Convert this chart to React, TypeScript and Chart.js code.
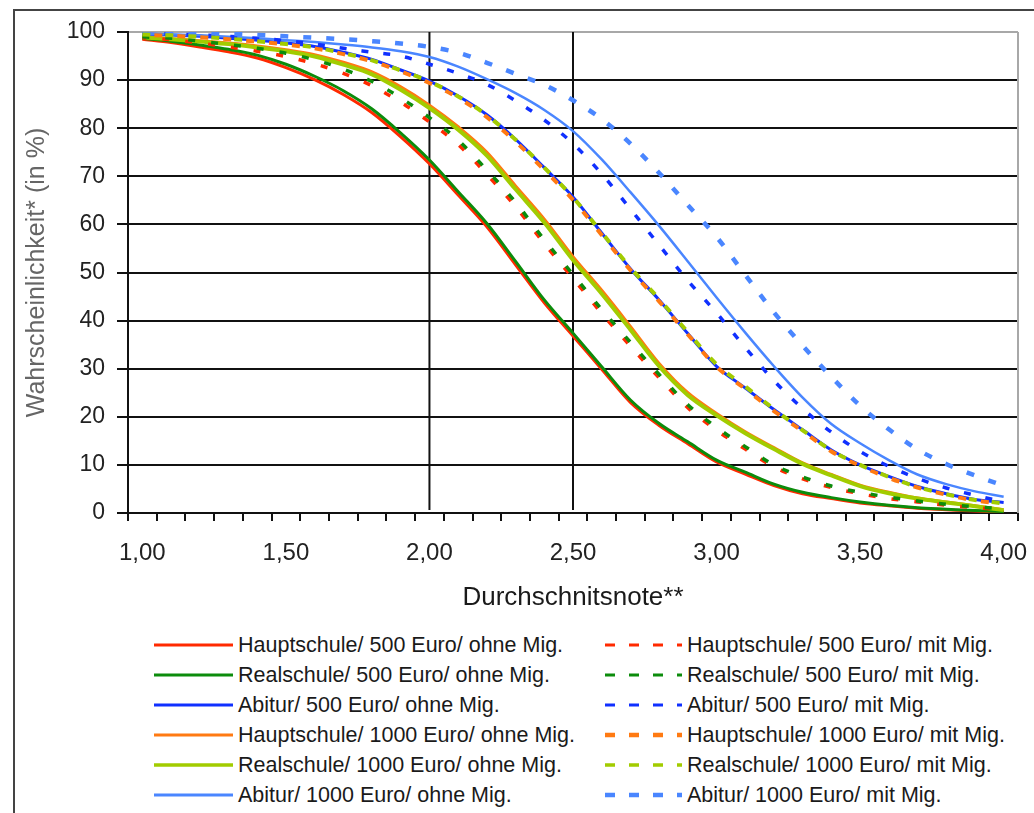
import React, { useEffect, useRef } from 'react';
import { Chart, registerables } from 'chart.js';

Chart.register(...registerables);

const categories = [
  '1,00', '1,10', '1,20', '1,30', '1,40', '1,50', '1,60', '1,70', '1,80', '1,90',
  '2,00', '2,10', '2,20', '2,30', '2,40', '2,50', '2,60', '2,70', '2,80', '2,90',
  '3,00', '3,10', '3,20', '3,30', '3,40', '3,50', '3,60', '3,70', '3,80', '3,90',
  '4,00',
];
const labeledTicks = ['1,00', '1,50', '2,00', '2,50', '3,00', '3,50', '4,00'];
const referenceNotes = ['2,00', '2,50'];

const hauptschule500Ohne = [98.5, 97.8, 96.9, 95.9, 94.6, 92.6, 90.1, 87.0, 83.2, 78.2, 72.6, 66.1, 59.5, 51.6, 43.7, 36.8, 29.9, 23.0, 18.2, 14.4, 10.6, 8.1, 5.7, 4.0, 3.0, 2.1, 1.5, 1.0, 0.7, 0.4, 0.2];
const realschule500Ohne = [98.7, 98.1, 97.3, 96.4, 95.2, 93.3, 90.8, 87.8, 84.0, 79.0, 73.4, 66.8, 60.2, 52.3, 44.3, 37.4, 30.4, 23.5, 18.6, 14.8, 11.0, 8.5, 6.0, 4.3, 3.2, 2.3, 1.6, 1.1, 0.8, 0.5, 0.3];
const abitur500Ohne = [99.6, 99.4, 99.1, 98.7, 98.3, 97.7, 97.0, 95.8, 94.3, 92.1, 89.8, 86.7, 82.8, 77.7, 71.8, 65.7, 58.2, 50.8, 44.3, 37.3, 30.5, 26.0, 21.5, 17.3, 13.1, 10.0, 7.6, 5.5, 4.0, 2.8, 2.2];
const hauptschule1000Ohne = [99.0, 98.6, 98.2, 97.7, 97.1, 96.3, 95.3, 93.7, 91.7, 88.6, 84.8, 80.3, 75.0, 68.0, 61.1, 53.3, 46.3, 38.8, 31.1, 25.0, 20.7, 16.9, 13.6, 10.4, 8.0, 5.8, 4.3, 3.1, 2.3, 1.5, 0.7];
const realschule1000Ohne = [98.9, 98.5, 98.0, 97.5, 96.8, 96.0, 94.9, 93.2, 91.2, 88.0, 84.2, 79.7, 74.3, 67.3, 60.4, 52.6, 45.6, 38.1, 30.5, 24.5, 20.3, 16.6, 13.3, 10.2, 7.8, 5.6, 4.1, 3.0, 2.2, 1.4, 0.6];
const abitur1000Ohne = [99.7, 99.5, 99.3, 99.0, 98.7, 98.3, 97.9, 97.4, 96.8, 96.0, 94.8, 92.8, 90.2, 87.3, 83.8, 79.4, 73.5, 66.7, 59.7, 52.3, 44.8, 37.5, 30.5, 24.0, 18.5, 14.5, 11.0, 8.0, 6.0, 4.5, 3.4];

const hauptschule500Mit = [98.8, 98.4, 97.7, 96.9, 96.0, 94.9, 93.4, 91.4, 88.8, 85.4, 81.3, 76.6, 70.4, 63.7, 56.0, 48.8, 41.5, 34.7, 28.1, 21.9, 17.2, 13.3, 9.6, 7.1, 5.3, 4.0, 3.0, 2.3, 1.6, 1.1, 0.7];
const realschule500Mit = [99.0, 98.7, 98.1, 97.4, 96.6, 95.6, 94.2, 92.3, 89.7, 86.3, 82.2, 77.5, 71.3, 64.6, 56.8, 49.6, 42.3, 35.5, 28.8, 22.5, 17.8, 13.8, 10.0, 7.5, 5.6, 4.3, 3.3, 2.5, 1.8, 1.3, 0.9];
const abitur500Mit = [99.8, 99.6, 99.4, 99.1, 98.7, 98.2, 97.5, 96.6, 95.8, 95.0, 93.3, 91.4, 89.1, 85.7, 81.7, 76.8, 70.5, 63.2, 55.7, 48.3, 41.6, 34.4, 27.5, 21.7, 16.8, 12.8, 9.7, 7.2, 5.2, 3.7, 2.3];
const hauptschule1000Mit = [99.4, 99.2, 98.9, 98.5, 98.0, 97.4, 96.6, 95.4, 93.9, 91.8, 89.4, 86.3, 82.3, 77.2, 71.3, 65.1, 57.8, 50.5, 44.0, 37.1, 30.4, 25.8, 21.2, 17.0, 12.8, 9.8, 7.3, 5.3, 3.8, 2.6, 1.9];
const realschule1000Mit = [99.5, 99.3, 99.0, 98.6, 98.1, 97.5, 96.8, 95.6, 94.1, 92.0, 89.7, 86.6, 82.7, 77.6, 71.8, 65.6, 58.3, 51.0, 44.5, 37.6, 30.9, 26.3, 21.6, 17.2, 13.0, 10.0, 7.5, 5.4, 3.9, 2.7, 2.0];
const abitur1000Mit = [100, 99.9, 99.8, 99.6, 99.4, 99.1, 98.8, 98.5, 98.1, 97.6, 96.9, 95.7, 93.6, 91.3, 89.0, 85.8, 81.9, 76.8, 70.7, 64.0, 57.4, 49.5, 41.7, 34.8, 28.3, 22.3, 17.4, 13.2, 10.2, 7.8, 5.7];

const FONT = "'Liberation Sans', Arial, sans-serif";

type Series = {
  label: string;
  data: number[];
  color: string;
  width: number;
  dash: number[];
  dashOffset: number;
  order: number;
  legendWidth: number;
};

const solidSeries: Series[] = [
  { label: 'Hauptschule/ 500 Euro/ ohne Mig.', data: hauptschule500Ohne, color: '#ff2a00', width: 3, dash: [], dashOffset: 0, order: 12, legendWidth: 3 },
  { label: 'Realschule/ 500 Euro/ ohne Mig.', data: realschule500Ohne, color: '#0c8c0c', width: 3, dash: [], dashOffset: 0, order: 11, legendWidth: 3 },
  { label: 'Abitur/ 500 Euro/ ohne Mig.', data: abitur500Ohne, color: '#1030ff', width: 3, dash: [], dashOffset: 0, order: 8, legendWidth: 3 },
  { label: 'Hauptschule/ 1000 Euro/ ohne Mig.', data: hauptschule1000Ohne, color: '#ff7a12', width: 3, dash: [], dashOffset: 0, order: 10, legendWidth: 3 },
  { label: 'Realschule/ 1000 Euro/ ohne Mig.', data: realschule1000Ohne, color: '#a2cc00', width: 4, dash: [], dashOffset: 0, order: 9, legendWidth: 3.5 },
  { label: 'Abitur/ 1000 Euro/ ohne Mig.', data: abitur1000Ohne, color: '#4a86ff', width: 2.5, dash: [], dashOffset: 0, order: 7, legendWidth: 3 },
];

const dashedSeries: Series[] = [
  { label: 'Hauptschule/ 500 Euro/ mit Mig.', data: hauptschule500Mit, color: '#ff2a00', width: 3.5, dash: [7, 16], dashOffset: 3, order: 4, legendWidth: 3 },
  { label: 'Realschule/ 500 Euro/ mit Mig.', data: realschule500Mit, color: '#0c8c0c', width: 3.5, dash: [7, 16], dashOffset: 0, order: 3, legendWidth: 3 },
  { label: 'Abitur/ 500 Euro/ mit Mig.', data: abitur500Mit, color: '#1030ff', width: 3.5, dash: [7, 15], dashOffset: 0, order: 6, legendWidth: 3 },
  { label: 'Hauptschule/ 1000 Euro/ mit Mig.', data: hauptschule1000Mit, color: '#ff7a12', width: 4, dash: [8, 15], dashOffset: 11, order: 2, legendWidth: 4.5 },
  { label: 'Realschule/ 1000 Euro/ mit Mig.', data: realschule1000Mit, color: '#a2cc00', width: 4, dash: [8, 15], dashOffset: 0, order: 1, legendWidth: 3.5 },
  { label: 'Abitur/ 1000 Euro/ mit Mig.', data: abitur1000Mit, color: '#4a86ff', width: 4.5, dash: [8, 15], dashOffset: 0, order: 5, legendWidth: 4.5 },
];

const framePlugin = {
  id: 'frameAndNotes',
  beforeDatasetsDraw(chart: any) {
    const { ctx, chartArea, scales } = chart;
    ctx.save();
    ctx.lineWidth = 2;
    ctx.strokeStyle = '#a8a8a8';
    ctx.beginPath();
    ctx.moveTo(chartArea.right, chartArea.top);
    ctx.lineTo(chartArea.right, chartArea.bottom);
    ctx.stroke();
    ctx.strokeStyle = '#111';
    referenceNotes.forEach((n) => {
      const x = scales.x.getPixelForValue(categories.indexOf(n));
      ctx.beginPath();
      ctx.moveTo(x, chartArea.top);
      ctx.lineTo(x, chartArea.bottom - 3);
      ctx.stroke();
    });
    ctx.restore();
  },
};

function LegendItem({ s, left, top, dashed }: { s: Series; left: number; top: number; dashed: boolean }) {
  return (
    <div style={{ position: 'absolute', left, top, height: 30, display: 'flex', alignItems: 'center' }}>
      <svg width={dashed ? 77 : 79} height={8} style={{ display: 'block' }}>
        <line
          x1={0}
          y1={4}
          x2={dashed ? 77 : 79}
          y2={4}
          stroke={s.color}
          strokeWidth={s.legendWidth}
          strokeDasharray={dashed ? '10 14' : undefined}
        />
      </svg>
      <span style={{ marginLeft: 5, fontFamily: FONT, fontSize: 21.5, color: '#1a1a1a', whiteSpace: 'nowrap' }}>{s.label}</span>
    </div>
  );
}

export default function App() {
  const canvasRef = useRef<HTMLCanvasElement | null>(null);

  useEffect(() => {
    if (!canvasRef.current) return;
    const all = [...solidSeries, ...dashedSeries];
    const chart = new Chart(canvasRef.current, {
      type: 'line',
      data: {
        labels: categories,
        datasets: all.map((s) => ({
          label: s.label,
          data: s.data,
          borderColor: s.color,
          backgroundColor: s.color,
          borderWidth: s.width,
          borderDash: s.dash,
          borderDashOffset: s.dashOffset,
          borderCapStyle: 'butt',
          pointRadius: 0,
          pointHoverRadius: 0,
          fill: false,
          cubicInterpolationMode: 'monotone',
          order: s.order,
        })),
      } as any,
      options: {
        responsive: false,
        animation: false,
        devicePixelRatio: 1,
        events: [],
        layout: { padding: { left: 20, top: 32, right: 16, bottom: 7 } },
        plugins: { legend: { display: false }, tooltip: { enabled: false } },
        scales: {
          x: {
            type: 'category',
            offset: true,
            grid: { offset: true, drawOnChartArea: false, drawTicks: true, tickLength: 8, color: '#111', lineWidth: 2 },
            border: { display: true, color: '#111', width: 2 },
            ticks: {
              autoSkip: false,
              maxRotation: 0,
              minRotation: 0,
              padding: 18,
              color: '#222',
              font: { family: FONT, size: 24 },
              callback: (_v: any, index: number) => (labeledTicks.includes(categories[index]) ? categories[index] : ''),
            },
            title: {
              display: true,
              text: 'Durchschnitsnote**',
              color: '#1a1a1a',
              font: { family: FONT, size: 26 },
              padding: { top: 0, bottom: 0 },
            },
            afterFit: (scale: any) => {
              scale.height = 100;
              scale.paddingLeft = 0;
              scale.paddingRight = 0;
            },
          },
          y: {
            min: 0,
            max: 100,
            ticks: { stepSize: 10, padding: 12, color: '#222', font: { family: FONT, size: 23 } },
            grid: {
              color: (c: any) => (c.tick && c.tick.value === 100 ? '#a8a8a8' : '#111'),
              tickColor: '#111',
              lineWidth: 2,
              tickLength: 11,
              drawTicks: true,
            },
            border: { display: true, color: '#111', width: 2 },
            title: {
              display: true,
              text: 'Wahrscheinlichkeit* (in %)',
              color: '#666',
              font: { family: FONT, size: 25 },
              padding: { top: 2, bottom: 0 },
            },
            afterFit: (scale: any) => {
              scale.width = 108;
            },
          },
        },
      } as any,
      plugins: [framePlugin],
    });
    return () => chart.destroy();
  }, []);

  return (
    <div style={{ position: 'absolute', left: 0, top: 0, width: 1034, height: 813, overflow: 'hidden', background: '#fff' }}>
      <div style={{ position: 'absolute', left: 13, top: 9, width: 1100, height: 900, borderLeft: '2px solid #444', borderTop: '2px solid #444' }} />
      <canvas ref={canvasRef} width={1034} height={620} style={{ position: 'absolute', left: 0, top: 0, width: 1034, height: 620 }} />
      {solidSeries.map((s, i) => (
        <LegendItem key={s.label} s={s} left={154} top={630 + i * 30} dashed={false} />
      ))}
      {dashedSeries.map((s, i) => (
        <LegendItem key={s.label} s={s} left={605} top={630 + i * 30} dashed={true} />
      ))}
    </div>
  );
}
